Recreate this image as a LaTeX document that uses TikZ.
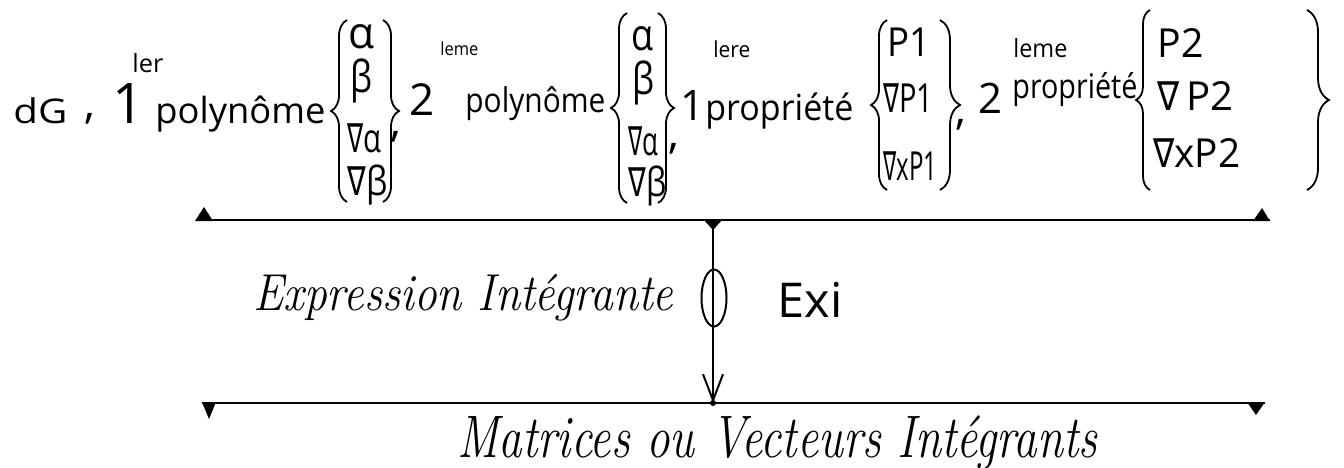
\documentclass[tikz,border=0pt]{standalone}
\usepackage{fontspec}
\usepackage{graphicx}
\usetikzlibrary{arrows.meta,shapes.geometric,decorations.pathreplacing}
\newfontfamily\hand{Open Sans}
\newfontfamily\dvs{DejaVu Sans}
\newcommand\Nab{\resizebox{0.55em}{\height}{\dvs ∇}}
\newcommand\hw[2]{\resizebox{#1}{\height}{#2}}
\tikzset{
  sz/.style={inner sep=0pt, anchor=base west, font=\hand\fontsize{#1}{#1}\selectfont},
  scr/.style={inner sep=0pt, anchor=base west, font=\itshape\fontsize{#1}{#1}\selectfont},
  rail/.style={line width=1.3pt},
  wire/.style={line width=1pt},
  lbr/.style={decorate, decoration={brace, amplitude=#1}, line width=0.9pt},
}
\begin{document}
\begin{tikzpicture}[x=0.5pt,y=-0.5pt]
\fill[white] (0,0) rectangle (1344,467);
\useasboundingbox (0,0) rectangle (1344,467);

% ---- top row ----
\node[sz=17] (dG) at (13,123) {\hw{27pt}{dG}};
\node[sz=22] (c1) at (84,118) {,};
\node[sz=28] (n1) at (112,123) {1};
\node[sz=12.5] (s1) at (132,72) {\hw{15.5pt}{ler}};
\node[sz=18] (w1) at (155,123) {\hw{85pt}{polynôme}};

\draw[lbr=8pt] (347,202) -- (347,20);
\node[sz=22] (a1) at (348,48) {\hw{13pt}{α}};
\node[sz=22] (b1) at (350,92) {\hw{11pt}{β}};
\node[sz=20] (da1) at (347,152) {\hw{17pt}{\Nab α}};
\node[sz=20] (db1) at (347,195) {\hw{20pt}{\Nab β}};
\draw[lbr=8pt] (383,20) -- (383,202);

\node[sz=22] (c2) at (390,136) {,};
\node[sz=22] (n2) at (409,115) {2};
\node[sz=9] (s2) at (440,55) {\hw{19pt}{leme}};
\node[sz=17] (w2) at (465,112) {\hw{70pt}{polynôme}};

\draw[lbr=8pt] (627,203) -- (627,13);
\node[sz=22] (a2) at (631,50) {\hw{11pt}{α}};
\node[sz=22] (b2) at (632,94) {\hw{11pt}{β}};
\node[sz=20] (da2) at (628,155) {\hw{15pt}{\Nab α}};
\node[sz=20] (db2) at (628,196) {\hw{19pt}{\Nab β}};
\draw[lbr=8pt] (658,13) -- (658,203);

\node[sz=22] (c3) at (668,148) {,};
\node[sz=21] (n3) at (680,120) {1};
\node[sz=11] (s3) at (713,57) {\hw{18.5pt}{lere}};
\node[sz=18] (w3) at (705,120) {\hw{74pt}{propriété}};

\draw[lbr=8pt] (887,190) -- (887,20);
\node[sz=20] (p1) at (887,56) {\hw{21.5pt}{P1}};
\node[sz=20] (dp1) at (883,112) {\hw{25pt}{\Nab P1}};
\node[sz=20] (dxp1) at (883,180) {\hw{27pt}{\Nab xP1}};
\draw[lbr=10pt] (940,20) -- (940,190);

\node[sz=22] (c4) at (955,124) {,};
\node[sz=21] (n4) at (978,113) {2};
\node[sz=12.5] (s4) at (1013,57) {\hw{27pt}{leme}};
\node[sz=17] (w4) at (1012,98) {\hw{62.5pt}{propriété}};

\draw[lbr=7pt] (1150,190) -- (1150,10);
\node[sz=20] (p2) at (1157,57) {\hw{23pt}{P2}};
\node[sz=20] (dp2) at (1157,110) {\hw{38pt}{\Nab\,P2}};
\node[sz=20] (dxp2) at (1153,167) {\hw{43.5pt}{\Nab xP2}};
\draw[lbr=11pt] (1307,10) -- (1307,190);

% ---- rails ----
\coordinate (tl) at (197,220);
\coordinate (tr) at (1270,220);
\coordinate (tm) at (713,220);
\coordinate (bl) at (202,403);
\coordinate (br) at (1265,403);
\coordinate (bm) at (713,403);
\draw[rail] (tl) -- (tm) -- (tr);
\draw[rail] (bl) -- (bm) -- (br);
\fill (tl) ++(-2,1) -- ++(18,0) -- ++(-9,-14) -- cycle;
\fill (tr) ++(-17,1) -- ++(17,0) -- ++(-8,-13) -- cycle;
\fill (tm) ++(-10,-1) -- ++(20,0) -- ++(-10,11) -- cycle;
\fill (bl) ++(0,-1) -- ++(14,0) -- ++(-7,17) -- cycle;
\fill (br) ++(-18,-1) -- ++(18,0) -- ++(-9,13) -- cycle;
\fill (bm) circle (3);

% ---- vertical connector ----
\draw[wire, -{Straight Barb[length=13pt,width=10pt,line width=1pt]}] (tm) -- (bm);
\node[draw, wire, ellipse, minimum width=12.5pt, minimum height=28.5pt, inner sep=0pt] (osc) at (714,298) {};

% ---- labels ----
\node[scr=26] (ei) at (253,310) {\hw{210pt}{Expression Intégrante}};
\node[sz=24] (exi) at (777,317) {\hw{32.5pt}{Exi}};
\node[scr=30] (mv) at (457,457) {\hw{320pt}{Matrices ou Vecteurs Intégrants}};
\end{tikzpicture}
\end{document}
